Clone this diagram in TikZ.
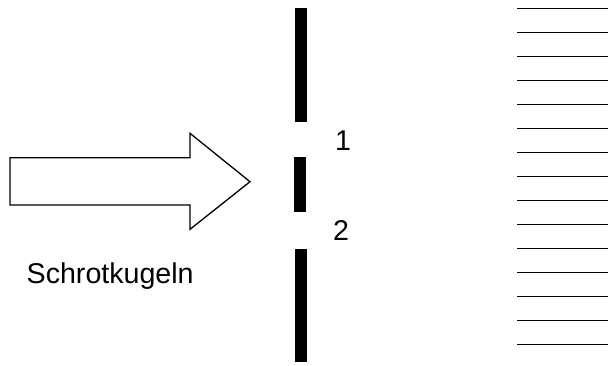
\documentclass[tikz,border=0pt]{standalone}
\usepackage{fontspec}
\setmainfont{Liberation Sans}
\usetikzlibrary{positioning}

\begin{document}
\begin{tikzpicture}[x=1pt, y=-1pt,
    every node/.style={font=\fontsize{28.6}{34}\selectfont, inner sep=0pt},
    slitbar/.style={fill=black, draw=none},
    screenline/.style={line width=1.4pt}]
    \useasboundingbox (0,0) rectangle (608,365);
    % Pfeil
    \draw[line width=1.3pt, line join=miter] (10,157.7) -- (190,157.7) -- (190,133.3) -- (250,181.7)
      -- (190,229.3) -- (190,205) -- (10,205) -- cycle;
    \node[anchor=base west] (label) at (26.5,283.3) {Schrotkugeln};
    % Blende mit zwei Spalten
    \fill[slitbar] (295,8) rectangle (307,122);
    \fill[slitbar] (294,157) rectangle (306,212);
    \fill[slitbar] (295,249) rectangle (307,362);
    \node[anchor=base] (slit1) at (343,150) {1};
    \node[anchor=base] (slit2) at (341,240.5) {2};
    % Schirm
    \foreach \i in {0,...,14} {
      \draw[screenline] (517,8.3+24*\i) -- (608,8.3+24*\i);
    }
\end{tikzpicture}
\end{document}
